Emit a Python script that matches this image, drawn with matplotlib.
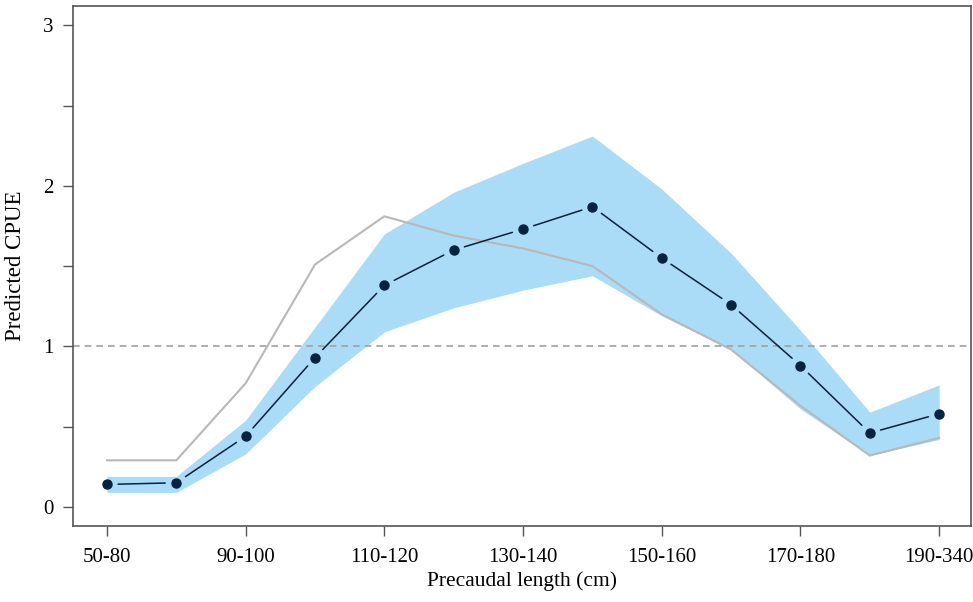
import matplotlib.pyplot as plt
import numpy as np

plt.rcParams['font.family'] = ['Liberation Serif', 'DejaVu Serif']

# length classes (cm)
classes = ['50-80', '80-90', '90-100', '100-110', '110-120', '120-130', '130-140',
           '140-150', '150-160', '160-170', '170-180', '180-190', '190-340']
cpue = [0.14, 0.15, 0.44, 0.93, 1.38, 1.60, 1.73, 1.87, 1.55, 1.26, 0.88, 0.46, 0.58]
ci_low = [0.09, 0.09, 0.33, 0.75, 1.09, 1.24, 1.35, 1.44, 1.19, 0.98, 0.61, 0.32, 0.42]
ci_high = [0.19, 0.19, 0.54, 1.12, 1.70, 1.96, 2.14, 2.31, 1.98, 1.58, 1.10, 0.59, 0.76]
other = [0.29, 0.29, 0.77, 1.51, 1.81, 1.69, 1.61, 1.50, 1.20, 0.98, 0.63, 0.32, 0.43]

x = np.arange(len(classes))

fig = plt.figure(figsize=(9.73, 6.02), dpi=100)
ax = fig.add_axes([0.075, 0.126, 0.923, 0.864])

ax.fill_between(x, ci_low, ci_high, color='#aadcf8', lw=0)
ax.plot(x, other, color='#b8b8b8', lw=1.5)
ax.axhline(1, color='#a0a0a0', lw=1.2, ls=(0, (4, 3)))

# R type="b": segments stop short of the points
for i in range(len(x) - 1):
    ax.annotate('', xy=(x[i + 1], cpue[i + 1]), xytext=(x[i], cpue[i]),
                arrowprops=dict(arrowstyle='-', color='#0b2038', lw=1.1,
                                shrinkA=8, shrinkB=8))
ax.plot(x, cpue, 'o', color='#062340', ms=6.5, zorder=5)

ax.set_xlim(-0.49, 12.46)
ax.set_ylim(-0.12, 3.12)
ax.set_xticks(x[::2])
ax.set_xticklabels(classes[::2], fontsize=15)
ax.set_yticks([0, 0.5, 1, 1.5, 2, 2.5, 3])
ax.set_yticklabels(['0', '', '1', '', '2', '', '3'], fontsize=15)
ax.tick_params(axis='x', pad=9)
ax.tick_params(axis='y', pad=7)
ax.tick_params(direction='out', length=7, width=1, color='#555555')
for s in ax.spines.values():
    s.set_color('#555555')
    s.set_linewidth(1.2)

ax.set_xlabel('Precaudal length (cm)', fontsize=15.5, labelpad=3)
ax.set_ylabel('Predicted CPUE', fontsize=16.5, labelpad=12)

fig.savefig('out.png', dpi=100)
